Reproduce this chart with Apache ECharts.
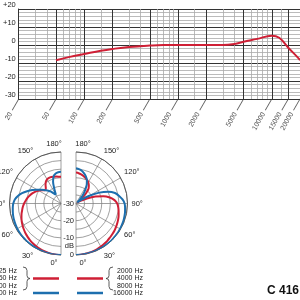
<!DOCTYPE html>
<html><head><meta charset="utf-8">
<script src="https://cdn.jsdelivr.net/npm/echarts@6/dist/echarts.min.js"></script>
<style>html,body{margin:0;padding:0;background:#fff}#c{width:300px;height:300px}</style>
</head><body><div id="c"></div>
<script>
// ---- frequency response ----
const freqs       = [50, 70, 100, 150, 200, 300, 500, 700, 1000, 2000, 3000, 4000, 5000, 7000, 10000, 12000, 15000, 19000, 20000];
const responseDb  = [-8.5, -6.6, -5, -3.2, -2.2, -1.1, -0.3, 0, 0, 0, 0, 0.6, 1.8, 3.4, 5.2, 4, -1.5, -7, -8.5];
const freqTickLabels = [20, 50, 100, 200, 500, 1000, 2000, 5000, 10000, 15000, 20000];
const freqMajorLines = [50, 100, 200, 500, 1000, 2000, 5000, 10000, 15000];
const freqMinorLines = [30, 40, 60, 70, 80, 90, 150, 300, 400, 600, 700, 800, 900, 1500, 3000, 4000, 6000, 7000, 8000, 9000, 12500];
const dbTickLabels = ['-30', '-20', '-10', '0', '+10', '+20'];

// ---- polar patterns (angle in degrees, level in dB) ----
const polarAngles = [0,5,10,15,20,25,30,35,40,45,50,55,60,65,70,75,80,85,90,95,100,105,110,115,120,125,130,135,140,145,150,155,160,165,170,175,180];
const low125to500Db = [0,-0.05,-0.2,-0.4,-0.6,-0.9,-1.2,-1.6,-2,-2.5,-3,-3.6,-4.2,-4.8,-5.5,-6.2,-7,-7.7,-8.5,-9.4,-10.3,-11.3,-12.4,-13.6,-15,-16.5,-18,-17.5,-16,-14.6,-13.8,-13.5,-13.6,-13.9,-14.1,-14.3,-14.4];
const low1000Db     = [0,0,0,-0.1,-0.2,-0.2,-0.3,-0.3,-0.3,-0.4,-0.4,-0.5,-0.6,-0.8,-1,-1.2,-1.5,-1.8,-2.2,-3,-4.5,-6.5,-9,-11.5,-14,-16,-18,-19.5,-21,-23,-24,-21,-16.5,-13.5,-12.2,-11.7,-11.5];
const high2000to8000Db = [0,0,-0.2,-0.3,-0.5,-0.7,-1,-1.3,-1.6,-2,-2.3,-2.6,-3,-3.4,-3.8,-4.3,-4.8,-5.3,-6,-7.5,-10,-13.5,-18,-23,-27,-29,-26,-22,-18.6,-17,-15.8,-14.8,-14.1,-13.4,-12.8,-12.3,-12];
const high16000Db   = [0,0,-0.1,-0.2,-0.2,-0.2,-0.2,-0.2,-0.2,-0.2,-0.3,-0.3,-0.4,-0.5,-0.6,-0.8,-1,-1.3,-1.7,-2.8,-4.5,-6.5,-10,-15,-21,-26,-29,-27.5,-24,-21,-17.5,-15,-13.2,-11.8,-10.6,-9.9,-9.5];
const polarRadiusLabels = {'-30': '-30', '-20': '-20', '-10': '-10', '-5': 'dB', '0': '0'};
const legendLowLabels  = ['125 Hz', '250 Hz', '500 Hz', '1000 Hz'];
const legendHighLabels = ['2000 Hz', '4000 Hz', '8000 Hz', '16000 Hz'];
const modelName = 'C 416';

const RED = '#cf1f35', BLUE = '#1d6fae';
const FONT = 'Liberation Sans';

const chart = echarts.init(document.getElementById('c'), null, {renderer: 'canvas'});

const pts = (vals) => vals.map((v, i) => [v, polarAngles[i]]);

function angleAxis(idx, clockwise, endAngle) {
  return {
    polarIndex: idx, type: 'value', min: 0, max: 180, interval: 30,
    startAngle: 270, endAngle: endAngle, clockwise: clockwise,
    axisLine: {show: true, lineStyle: {color: '#444', width: 0.8}},
    axisTick: {show: false},
    splitLine: {show: true, lineStyle: {color: '#777', width: 0.7}},
    axisLabel: {
      show: true, fontSize: 7.5, fontFamily: FONT, color: '#222', margin: 4,
      formatter: (v) => (v === 0 || v === 180) ? '{e|' + v + '°}' : v + '°',
      rich: {e: {fontSize: 7.5, fontFamily: FONT, color: '#222',
        padding: clockwise ? [0, 14, 0, 0] : [0, 0, 0, 14]}}
    }
  };
}
function radiusAxis(idx, showLabels) {
  return {
    polarIndex: idx, type: 'value', min: -30, max: 0, interval: 5,
    axisLine: {show: false}, axisTick: {show: false},
    splitLine: {show: true, lineStyle: {color: '#777', width: 0.7}},
    axisLabel: {
      show: showLabels, fontSize: 7.5, fontFamily: FONT, color: '#222', margin: 13, align: 'right',
      formatter: (v) => polarRadiusLabels[String(v)] || ''
    }
  };
}

// brace made of quadratic curves and straight lines: [x1,y1,cpx,cpy,x2,y2] (cp null = straight)
function brace(x, tipX, yTop, yMid, yBot, endX) {
  return [
    [endX, yTop, x, yTop, x, yTop + 3.5],
    [x, yTop + 3.5, null, null, x, yMid - 3],
    [x, yMid - 3, x, yMid, tipX, yMid],
    [tipX, yMid, x, yMid, x, yMid + 3],
    [x, yMid + 3, null, null, x, yBot - 3.5],
    [x, yBot - 3.5, x, yBot, endX, yBot]
  ];
}
const rowY = [271, 278.5, 286, 293];
const graphics = [];
legendLowLabels.forEach((t, i) => graphics.push({type: 'text', silent: true,
  style: {text: t, x: 17, y: rowY[i], align: 'right', verticalAlign: 'middle', fontSize: 7, fontFamily: FONT, fill: '#222'}}));
legendHighLabels.forEach((t, i) => graphics.push({type: 'text', silent: true,
  style: {text: t, x: 143, y: rowY[i], align: 'right', verticalAlign: 'middle', fontSize: 7, fontFamily: FONT, fill: '#222'}}));
brace(27, 30, 267, 278.5, 290, 23).concat(brace(109, 106, 267, 278.5, 290, 113)).forEach(s => {
  if (s[2] === null) {
    graphics.push({type: 'line', silent: true, shape: {x1: s[0], y1: s[1], x2: s[4], y2: s[5]}, style: {stroke: '#333', lineWidth: 0.8}});
  } else {
    graphics.push({type: 'bezierCurve', silent: true, shape: {x1: s[0], y1: s[1], cpx1: s[2], cpy1: s[3], x2: s[4], y2: s[5]}, style: {fill: null, stroke: '#333', lineWidth: 0.8}});
  }
});
[[33, 59], [77, 103]].forEach(([a, b]) => {
  graphics.push({type: 'line', silent: true, shape: {x1: a, y1: 278.5, x2: b, y2: 278.5}, style: {stroke: RED, lineWidth: 2.5}});
  graphics.push({type: 'line', silent: true, shape: {x1: a, y1: 293, x2: b, y2: 293}, style: {stroke: BLUE, lineWidth: 2.5}});
});
graphics.push({type: 'text', silent: true,
  style: {text: modelName, x: 299, y: 291, align: 'right', verticalAlign: 'middle', fontSize: 12, fontWeight: 'bold', fontFamily: FONT, fill: '#111'}});

const option = {
  animation: false,
  backgroundColor: '#fff',
  grid: {left: 13, top: 7, width: 289.5, height: 92, containLabel: false},
  xAxis: {
    type: 'log', logBase: 10, min: 20, max: 20000,
    axisLine: {show: true, onZero: false, lineStyle: {color: '#333', width: 1}},
    axisTick: {show: false}, axisLabel: {show: false},
    splitLine: {show: false}, minorSplitLine: {show: false}
  },
  yAxis: {
    type: 'value', min: -30, max: 20, interval: 10,
    axisLine: {show: true, lineStyle: {color: '#333', width: 1}},
    axisTick: {show: false},
    axisLabel: {show: true, fontSize: 7.5, fontFamily: FONT, color: '#222', margin: 3,
      verticalAlign: 'bottom', lineHeight: 9,
      formatter: (v) => dbTickLabels[(v + 30) / 10]},
    splitLine: {show: true, lineStyle: {color: '#333', width: 1}},
    minorTick: {show: false, splitNumber: 5},
    minorSplitLine: {show: true, lineStyle: {color: '#aaa', width: 0.8}}
  },
  polar: [
    {center: [61, 203.5], radius: 51.5},
    {center: [76, 203.5], radius: 51.5}
  ],
  angleAxis: [angleAxis(0, true, 90), angleAxis(1, false, 450)],
  radiusAxis: [radiusAxis(0, true), radiusAxis(1, false)],
  series: [
    {
      type: 'line', xAxisIndex: 0, yAxisIndex: 0, data: [], silent: true,
      markLine: {
        silent: true, symbol: 'none', label: {show: false}, animation: false,
        data: freqMinorLines.map(v => ({xAxis: v, lineStyle: {color: '#aaa', width: 0.8, type: 'solid'}}))
          .concat(freqMajorLines.map(v => ({xAxis: v, lineStyle: {color: '#333', width: 1, type: 'solid'}})))
      }
    },
    {
      type: 'line', xAxisIndex: 0, yAxisIndex: 0, smooth: 0.4, symbol: 'none', silent: true,
      lineStyle: {color: RED, width: 2},
      data: freqs.map((f, i) => [f, responseDb[i]]), z: 5
    },
    {
      type: 'scatter', xAxisIndex: 0, yAxisIndex: 0, symbolSize: 0, silent: true,
      data: freqTickLabels.map(f => [f, -30]),
      label: {
        show: true, position: [0, 0], rotate: 60, align: 'right', verticalAlign: 'middle',
        formatter: (p) => '{t|' + p.value[0] + '}{l|}',
        rich: {
          t: {fontSize: 7, fontFamily: FONT, color: '#222', padding: [0, 3, 0, 0]},
          l: {width: 13, height: 0.8, backgroundColor: '#333'}
        }
      }
    },
    {type: 'line', coordinateSystem: 'polar', polarIndex: 0, smooth: 0.3, symbol: 'none', silent: true,
      lineStyle: {color: RED, width: 2}, data: pts(low125to500Db)},
    {type: 'line', coordinateSystem: 'polar', polarIndex: 0, smooth: 0.3, symbol: 'none', silent: true,
      lineStyle: {color: BLUE, width: 2}, data: pts(low1000Db)},
    {type: 'line', coordinateSystem: 'polar', polarIndex: 1, smooth: 0.3, symbol: 'none', silent: true,
      lineStyle: {color: RED, width: 2}, data: pts(high2000to8000Db)},
    {type: 'line', coordinateSystem: 'polar', polarIndex: 1, smooth: 0.3, symbol: 'none', silent: true,
      lineStyle: {color: BLUE, width: 2}, data: pts(high16000Db)}
  ],
  graphic: graphics
};
chart.setOption(option);
</script>
</body></html>
